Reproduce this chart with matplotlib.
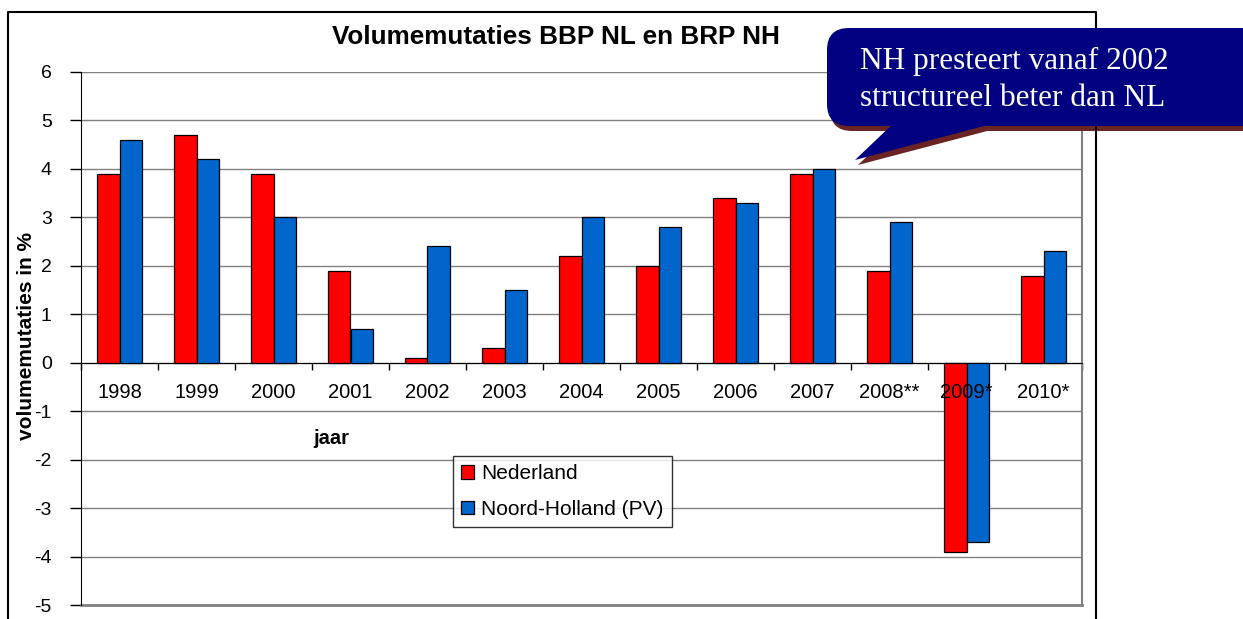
import matplotlib
matplotlib.use("Agg")
import matplotlib.pyplot as plt
import numpy as np
from matplotlib.patches import FancyBboxPatch, Polygon
from matplotlib.lines import Line2D

years = ["1998", "1999", "2000", "2001", "2002", "2003", "2004", "2005",
         "2006", "2007", "2008**", "2009*", "2010*"]
nederland = [3.9, 4.7, 3.9, 1.9, 0.1, 0.3, 2.2, 2.0, 3.4, 3.9, 1.9, -3.9, 1.8]
noord_holland = [4.6, 4.2, 3.0, 0.7, 2.4, 1.5, 3.0, 2.8, 3.3, 4.0, 2.9, -3.7, 2.3]
yticks = list(range(-5, 7))

plt.rcParams['font.family'] = ['Liberation Sans', 'DejaVu Sans']

W, H = 1243, 619
fig = plt.figure(figsize=(W / 100, H / 100), dpi=100)

def fx(px):
    return px / W

def fy(py):
    return 1 - py / H

L, R, T, B = 81, 1082, 72, 605
ax = fig.add_axes([fx(L), fy(B), fx(R - L), (B - T) / H])

x = np.arange(len(years))
bw = 0.29
ax.bar(x - bw / 2, nederland, bw, color='#FF0000', edgecolor='black', linewidth=0.9,
       label='Nederland', zorder=3)
ax.bar(x + bw / 2, noord_holland, bw, color='#0066CC', edgecolor='black', linewidth=0.9,
       label='Noord-Holland (PV)', zorder=3)

ax.set_xlim(-0.5, len(years) - 0.5)
ax.set_ylim(-5, 6)
ax.set_yticks(yticks)
ax.set_yticklabels([str(v) for v in yticks], fontsize=14)
ax.grid(axis='y', color='#808080', linewidth=1, zorder=0)
ax.set_axisbelow(True)

ax.spines['top'].set_visible(False)
ax.spines['right'].set_color('#808080')
ax.spines['right'].set_linewidth(1.5)
ax.spines['left'].set_color('black')
ax.spines['bottom'].set_position(('data', 0))
ax.spines['bottom'].set_color('black')
ax.tick_params(axis='y', direction='out', length=8, width=1, pad=13, colors='black')

ax.set_xticks(x)
ax.set_xticklabels([])
ax.set_xticks(np.arange(-0.5, len(years), 1), minor=True)
ax.tick_params(axis='x', which='major', length=0)
ax.tick_params(axis='x', which='minor', direction='out', length=5, width=1)
for xi, lab in zip(x, years):
    ax.text(xi, -0.62, lab, ha='center', va='center', fontsize=14.5, zorder=6)

ax.axhline(-5, color='#808080', linewidth=2, zorder=1, clip_on=False)

fig.text(fx(556), fy(37), 'Volumemutaties BBP NL en BRP NH', ha='center', va='center',
         fontsize=18.8, fontweight='bold')
fig.text(fx(27), fy(336), 'volumemutaties in %', rotation=90, ha='center', va='center',
         fontsize=15, fontweight='bold')
fig.text(fx(331), fy(438), 'jaar', ha='center', va='center', fontsize=14.5, fontweight='bold')

leg = ax.legend(loc='upper left', bbox_to_anchor=(fx(453), fy(456)),
                bbox_transform=fig.transFigure, fontsize=15, frameon=True,
                fancybox=False, edgecolor='black', borderpad=0.4,
                handlelength=0.6, handleheight=0.6, handletextpad=0.35,
                labelspacing=0.8, borderaxespad=0)
leg.get_frame().set_linewidth(1)
leg.set_zorder(5)

ov = fig.add_axes([0, 0, 1, 1], zorder=10)
ov.set_xlim(0, W)
ov.set_ylim(H, 0)
ov.axis('off')
ov.patch.set_alpha(0)

ov.add_line(Line2D([8, 8, 1096, 1096], [H + 5, 12, 12, H + 5], color='black', linewidth=1.5))

def callout(dx, dy, color, z):
    box = FancyBboxPatch((827 + dx, 28 + dy), 450, 98,
                         boxstyle='round,pad=0,rounding_size=22',
                         facecolor=color, edgecolor='none', zorder=z)
    ov.add_patch(box)
    tail = Polygon([(897 + dx, 120 + dy), (1007 + dx, 120 + dy), (855 + dx, 160 + dy)],
                   closed=True, facecolor=color, edgecolor='none', zorder=z)
    ov.add_patch(tail)

callout(3, 5, '#6B2424', 1)
callout(0, 0, '#000080', 2)
ov.text(860, 61, 'NH presteert vanaf 2002', color='white', fontsize=22.5,
        family=['Liberation Serif', 'DejaVu Serif'], ha='left', va='center', zorder=3)
ov.text(860, 98, 'structureel beter dan NL', color='white', fontsize=22.5,
        family=['Liberation Serif', 'DejaVu Serif'], ha='left', va='center', zorder=3)

fig.savefig('out.png', dpi=100)
